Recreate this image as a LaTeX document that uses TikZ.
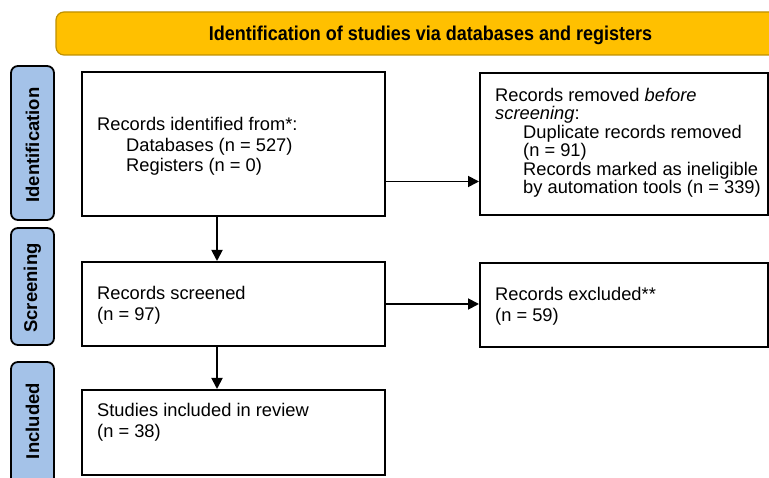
\documentclass[tikz,border=0pt]{standalone}
\usepackage{fontspec}
\setmainfont{Liberation Sans}
\usetikzlibrary{arrows.meta}
\definecolor{gold}{RGB}{255,192,0}
\definecolor{goldline}{RGB}{191,144,0}
\definecolor{phase}{RGB}{164,194,232}
\tikzset{
  mainbox/.style={draw=black, line width=2pt, fill=white},
  phasebox/.style={draw=black, line width=1.8pt, fill=phase, rounded corners=7pt},
  phasetext/.style={rotate=90, font=\fontsize{18.5}{20}\selectfont\bfseries, inner sep=0pt},
  bodytext/.style={anchor=north west, inner sep=0pt, align=left, font=\fontsize{18.3}{20.7}\selectfont},
  tighttext/.style={anchor=north west, inner sep=0pt, align=left, font=\fontsize{18.3}{18.5}\selectfont},
  arr/.style={line width=1.8pt, -{Triangle[length=11pt,width=11pt]}}
}
\begin{document}
\begin{tikzpicture}[x=1pt,y=-1pt]
\useasboundingbox (0,0) rectangle (769,478);
\clip (0,0) rectangle (769,478);
% title
\draw[fill=gold, draw=goldline, line width=1.2pt, rounded corners=8pt] (56,12) rectangle (810,55);
\node[inner sep=0pt, font=\fontsize{20}{22}\selectfont\bfseries] (title) at (430.5,35) {\scalebox{0.9}[1]{Identification of studies via databases and registers}};
% phase boxes
\draw[phasebox] (11,66) rectangle (54,220);
\node[phasetext] (pid) at (32.5,145) {Identification};
\draw[phasebox] (11,228) rectangle (54,345);
\node[phasetext] (psc) at (32.5,288) {Screening};
\draw[phasebox] (11,362) rectangle (54,500);
\node[phasetext] (pin) at (32.5,421) {Included};
% main boxes
\node[mainbox, anchor=north west, minimum width=303pt, minimum height=144pt, inner sep=0pt] (ident) at (81,71) {};
\node[mainbox, anchor=north west, minimum width=288pt, minimum height=142pt, inner sep=0pt] (removed) at (479,72) {};
\node[mainbox, anchor=north west, minimum width=303pt, minimum height=84pt, inner sep=0pt] (screened) at (81,261) {};
\node[mainbox, anchor=north west, minimum width=288pt, minimum height=84pt, inner sep=0pt] (excluded) at (479,262) {};
\node[mainbox, anchor=north west, minimum width=303pt, minimum height=85pt, inner sep=0pt] (included) at (81,389) {};
% texts
\node[bodytext] (tident) at (97,117) {Records identified from*:\\\hspace*{29pt}Databases (n = 527)\\\hspace*{29pt}Registers (n = 0)};
\node[tighttext] (tremoved) at (495,88) {Records removed \textit{before}\\\textit{screening}:\\\hspace*{28pt}Duplicate records removed\\\hspace*{28pt}(n = 91)\\\hspace*{28pt}Records marked as ineligible\\\hspace*{28pt}by automation tools (n = 339)};
\node[bodytext] (tscreened) at (97,286) {Records screened\\(n = 97)};
\node[bodytext] (texcluded) at (495,287) {Records excluded**\\(n = 59)};
\node[bodytext] (tincluded) at (97,403) {Studies included in review\\(n = 38)};
% arrows
\coordinate (ax) at (217,0);
\coordinate (ay) at (0,181.5);
\draw[arr] (ident.south -| ax) -- (screened.north -| ax);
\draw[arr] (screened.south -| ax) -- (included.north -| ax);
\draw[arr] (ident.east |- ay) -- (removed.west |- ay);
\draw[arr] (screened.east) -- (excluded.west |- screened.east);
\end{tikzpicture}
\end{document}
